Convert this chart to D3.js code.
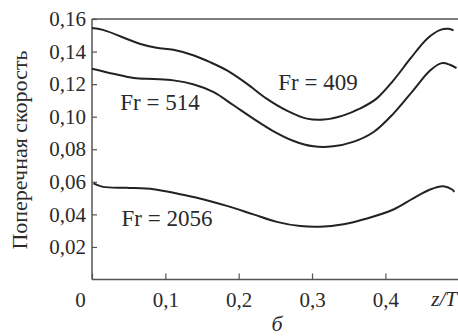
<!DOCTYPE html>
<html>
<head>
<meta charset="utf-8">
<script src="https://cdn.jsdelivr.net/npm/d3@7"></script>
<style>
body { margin: 0; background: #fff; }
text { font-family: "Liberation Serif", "Times New Roman", serif; fill: #2a2a2a; }
</style>
</head>
<body>
<svg width="458" height="336"></svg>
<script>
// values
var xTicks = [0, 0.1, 0.2, 0.3, 0.4]
var yTicks = [0.02, 0.04, 0.06, 0.08, 0.10, 0.12, 0.14, 0.16]

var fr409x = [0, 0.015, 0.065, 0.088, 0.111, 0.139, 0.161, 0.184, 0.211, 0.238, 0.265, 0.293, 0.316, 0.343, 0.365, 0.388, 0.411, 0.434, 0.457, 0.475, 0.486, 0.493]
var fr409y = [0.1544, 0.1533, 0.1448, 0.1423, 0.1411, 0.1376, 0.1335, 0.1284, 0.1203, 0.1111, 0.1039, 0.0988, 0.0982, 0.1008, 0.1049, 0.1111, 0.1223, 0.1356, 0.1479, 0.1533, 0.154, 0.153]

var fr514x = [0, 0.029, 0.057, 0.084, 0.111, 0.139, 0.166, 0.193, 0.220, 0.247, 0.275, 0.302, 0.329, 0.356, 0.384, 0.411, 0.438, 0.461, 0.477, 0.488, 0.497]
var fr514y = [0.1295, 0.1264, 0.1237, 0.1231, 0.1223, 0.1198, 0.1151, 0.107, 0.0988, 0.0912, 0.0851, 0.0818, 0.0818, 0.0845, 0.0906, 0.1019, 0.1162, 0.1284, 0.1329, 0.1319, 0.1298]

var fr2056x = [0.002, 0.015, 0.047, 0.084, 0.116, 0.147, 0.184, 0.220, 0.252, 0.284, 0.311, 0.343, 0.375, 0.411, 0.438, 0.461, 0.479, 0.491, 0.494]
var fr2056y = [0.059, 0.0569, 0.0563, 0.0555, 0.0528, 0.0498, 0.0452, 0.040, 0.0354, 0.0328, 0.0324, 0.034, 0.0375, 0.043, 0.0498, 0.0553, 0.0573, 0.0553, 0.0538]

var labels = ["Fr = 409", "Fr = 514", "Fr = 2056"]

var svg = d3.select("svg")
var padL = 92, padT = 19, padB = 279.5, padR = 458.7

var x = d3.scaleLinear().domain([0, 0.5]).range([padL, padR])
var y = d3.scaleLinear().domain([0, 0.16]).range([padB, padT])

var axisColor = "#555"

// frame: top line, left and bottom axes
svg.append("line")
    .attr("x1", padL).attr("x2", 458)
    .attr("y1", padT).attr("y2", padT)
    .attr("stroke", axisColor).attr("stroke-width", 1.5)

var yAxis = svg.append("g")
    .attr("transform", "translate(" + padL + ",0)")
    .call(d3.axisRight(y).tickValues(yTicks).tickSize(5).tickFormat(function (d) { return d3.format(".2f")(d).replace(".", ",") }))
yAxis.select(".domain").remove()
yAxis.selectAll("line").attr("stroke", axisColor).attr("stroke-width", 1.2)
yAxis.selectAll("text")
    .attr("x", -6).attr("text-anchor", "end")
    .style("font-size", "21px").style("font-family", "Liberation Serif")
    .attr("fill", "#2a2a2a")

var xAxis = svg.append("g")
    .attr("transform", "translate(0," + padB + ")")
    .call(d3.axisTop(x).tickValues(xTicks).tickSize(6).tickFormat(function (d) { return d === 0 ? "0" : d3.format(".1f")(d).replace(".", ",") }))
xAxis.select(".domain").remove()
xAxis.selectAll("line").attr("stroke", axisColor).attr("stroke-width", 1.2)
xAxis.selectAll("text")
    .attr("y", 27).attr("dy", null)
    .style("font-size", "21px").style("font-family", "Liberation Serif")
    .attr("fill", "#2a2a2a")
    .attr("dx", function (d) { return d === 0 ? -12 : 0 })

svg.append("line")
    .attr("x1", padL).attr("x2", padL)
    .attr("y1", padT).attr("y2", padB)
    .attr("stroke", axisColor).attr("stroke-width", 1.5)
svg.append("line")
    .attr("x1", padL).attr("x2", 458)
    .attr("y1", padB).attr("y2", padB)
    .attr("stroke", axisColor).attr("stroke-width", 1.5)

// curves
var line = d3.line()
    .x(function (d) { return x(d[0]) })
    .y(function (d) { return y(d[1]) })
    .curve(d3.curveCatmullRom)

var series = [[fr409x, fr409y], [fr514x, fr514y], [fr2056x, fr2056y]]
series.forEach(function (s) {
    svg.append("path")
        .attr("d", line(d3.zip(s[0], s[1])))
        .attr("fill", "none")
        .attr("stroke", "#222")
        .attr("stroke-width", 2)
})

// curve labels
var labelPos = [[318, 90], [160, 109.5], [167, 226]]
labels.forEach(function (t, i) {
    svg.append("text")
        .attr("x", labelPos[i][0]).attr("y", labelPos[i][1])
        .attr("text-anchor", "middle")
        .style("font-size", "23px")
        .text(t)
})

// axis titles
svg.append("text")
    .attr("transform", "translate(27,150) rotate(-90)")
    .attr("text-anchor", "middle")
    .style("font-size", "22px")
    .text("Поперечная скорость")

svg.append("text")
    .attr("x", 457).attr("y", 306)
    .attr("text-anchor", "end")
    .style("font-size", "21px").style("font-style", "italic")
    .text("z/T")

svg.append("text")
    .attr("x", 277).attr("y", 331)
    .attr("text-anchor", "middle")
    .style("font-size", "22px").style("font-style", "italic")
    .text("б")
</script>
</body>
</html>
